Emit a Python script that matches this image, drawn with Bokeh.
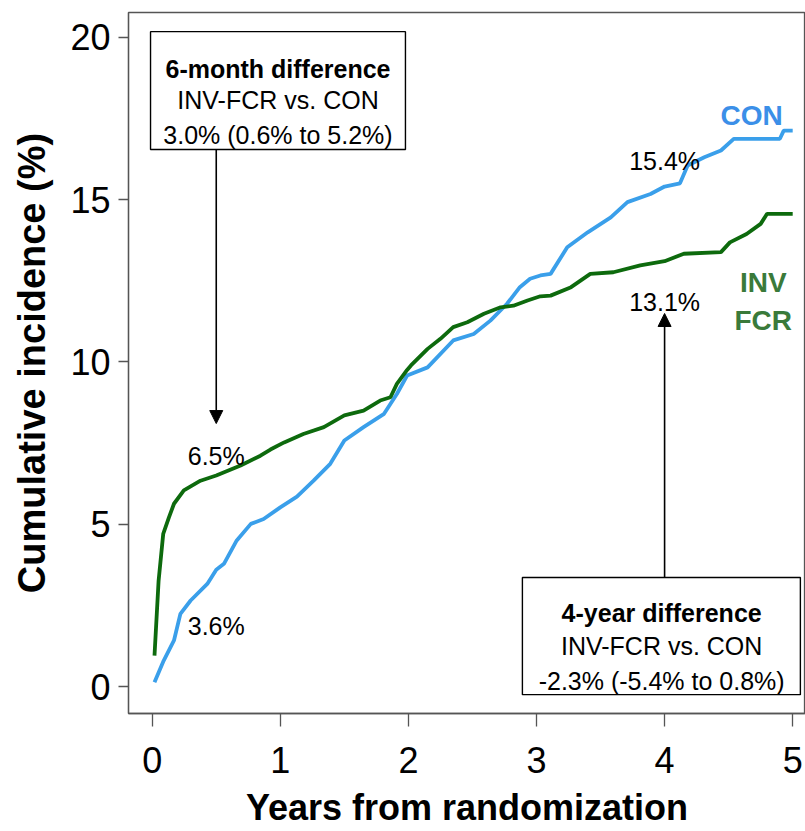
from bokeh.plotting import figure
from bokeh.models import Range1d, Label, Arrow, NormalHead, BoxAnnotation, FixedTicker
from bokeh.embed import file_html
from bokeh.resources import INLINE

# Cumulative incidence curves (years from randomization, %)
years_inv = [0.018, 0.05, 0.086, 0.13, 0.17, 0.247, 0.377, 0.5, 0.69, 0.845, 0.923,
             1.03, 1.18, 1.34, 1.50, 1.65, 1.78, 1.86, 1.91, 1.99, 2.02, 2.15, 2.25,
             2.35, 2.46, 2.59, 2.72, 2.82, 2.93, 3.03, 3.11, 3.27, 3.42, 3.60, 3.81,
             4.0, 4.15, 4.44, 4.51, 4.64, 4.75, 4.80, 5.0]
inc_inv = [0.95, 3.26, 4.70, 5.20, 5.63, 6.04, 6.34, 6.5, 6.81, 7.11, 7.30,
           7.52, 7.78, 7.99, 8.35, 8.50, 8.81, 8.91, 9.32, 9.75, 9.89, 10.40, 10.71,
           11.07, 11.22, 11.48, 11.68, 11.73, 11.89, 12.02, 12.04, 12.30, 12.71, 12.76, 12.97,
           13.1, 13.33, 13.38, 13.68, 13.94, 14.25, 14.56, 14.56]

years_con = [0.018, 0.09, 0.17, 0.22, 0.30, 0.43, 0.5, 0.56, 0.66, 0.77, 0.87, 1.0,
             1.13, 1.26, 1.39, 1.50, 1.65, 1.81, 1.91, 1.99, 2.15, 2.35, 2.51, 2.64,
             2.77, 2.87, 2.95, 3.03, 3.11, 3.24, 3.40, 3.58, 3.71, 3.89, 4.0, 4.12,
             4.18, 4.31, 4.44, 4.54, 4.90, 4.93, 5.0]
inc_con = [0.13, 0.80, 1.42, 2.24, 2.65, 3.16, 3.6, 3.78, 4.50, 5.01, 5.16, 5.52,
           5.85, 6.34, 6.86, 7.58, 7.99, 8.40, 9.01, 9.58, 9.83, 10.66, 10.86, 11.27,
           11.79, 12.30, 12.56, 12.66, 12.71, 13.53, 13.99, 14.45, 14.92, 15.17, 15.4, 15.5,
           16.05, 16.30, 16.51, 16.87, 16.87, 17.12, 17.12]

x_ticks = [0, 1, 2, 3, 4, 5]
y_ticks = [0, 5, 10, 15, 20]

# Landmark times for the point estimates
t_6m = 0.5
t_4y = 4.0

box_6m_lines = ["6-month difference", "INV-FCR vs. CON", "3.0% (0.6% to 5.2%)"]
box_4y_lines = ["4-year difference", "INV-FCR vs. CON", "-2.3% (-5.4% to 0.8%)"]

FONT = "Liberation Sans"
CON_BLUE = "#3a9fea"
INV_GREEN = "#0d6a0d"
AXIS_GRAY = "#555555"
TEXT_SIZE = "25px"

p = figure(width=805, height=831,
           x_range=Range1d(-0.185, 5.10), y_range=Range1d(-0.83, 20.76),
           output_backend="svg", toolbar_location=None,
           min_border_left=128, min_border_right=0,
           min_border_top=12, min_border_bottom=118)

p.grid.visible = False
p.background_fill_color = "white"
p.border_fill_color = "white"
p.outline_line_color = AXIS_GRAY
p.outline_line_width = 1.3

for ax in (p.xaxis[0], p.yaxis[0]):
    ax.axis_line_color = AXIS_GRAY
    ax.axis_line_width = 1.3
    ax.major_tick_line_color = AXIS_GRAY
    ax.major_tick_line_width = 1.3
    ax.major_tick_in = 0
    ax.minor_tick_line_color = None
    ax.major_label_text_font = FONT
    ax.major_label_text_font_size = "36px"
    ax.major_label_text_color = "black"
    ax.axis_label_text_font = FONT
    ax.axis_label_text_font_style = "bold"
    ax.axis_label_text_color = "black"

p.xaxis.ticker = FixedTicker(ticks=x_ticks)
p.yaxis.ticker = FixedTicker(ticks=y_ticks)
p.xaxis.major_tick_out = 13
p.yaxis.major_tick_out = 10
p.xaxis.major_label_standoff = 20
p.yaxis.major_label_standoff = 8
p.xaxis.axis_label = "Years from randomization"
p.yaxis.axis_label = "Cumulative incidence (%)"
p.xaxis.axis_label_text_font_size = "36px"
p.yaxis.axis_label_text_font_size = "38px"
p.xaxis.axis_label_standoff = 11
p.yaxis.axis_label_standoff = 14

# Curves
p.line(years_con, inc_con, line_color=CON_BLUE, line_width=3.8)
p.line(years_inv, inc_inv, line_color=INV_GREEN, line_width=3.8)

# Annotation boxes
for left, right, top, bottom in [(-0.013, 1.977, 20.17, 16.54), (2.89, 5.06, 3.36, -0.25)]:
    p.add_layout(BoxAnnotation(left=left, right=right, top=top, bottom=bottom,
                               fill_color="white", fill_alpha=1.0,
                               line_color="black", line_alpha=1.0, line_width=1.4))

def box_text(lines, xc, baselines):
    for i, (t, yb) in enumerate(zip(lines, baselines)):
        p.add_layout(Label(x=xc, y=yb, text=t, text_align="center",
                           text_baseline="alphabetic", text_font=FONT,
                           text_font_size=TEXT_SIZE,
                           text_font_style="bold" if i == 0 else "normal",
                           text_color="black"))

box_text(box_6m_lines, 0.982, [19.03, 18.05, 16.99])
box_text(box_4y_lines, 3.977, [2.28, 1.26, 0.185])

# Arrows from the boxes to the landmark estimates
p.add_layout(Arrow(end=NormalHead(size=13, fill_color="black", line_color="black"),
                   x_start=t_6m, y_start=16.54, x_end=t_6m, y_end=8.1,
                   line_color="black", line_width=1.6))
p.add_layout(Arrow(end=NormalHead(size=13, fill_color="black", line_color="black"),
                   x_start=t_4y, y_start=3.36, x_end=t_4y, y_end=11.49,
                   line_color="black", line_width=1.6))

# Point estimate labels at 6 months and 4 years
def est(years, inc, t):
    return inc[years.index(t)]

estimates = [(t_6m, years_inv, inc_inv, 7.11), (t_6m, years_con, inc_con, 1.88),
             (t_4y, years_con, inc_con, 16.2), (t_4y, years_inv, inc_inv, 11.83)]
for t, ys, vs, yb in estimates:
    p.add_layout(Label(x=t, y=yb, text=f"{est(ys, vs, t):.1f}%",
                       text_align="center", text_baseline="alphabetic", text_font=FONT,
                       text_font_size=TEXT_SIZE, text_color="black"))

# Arm labels
arm_labels = [("CON", 4.68, 17.59, "#3b8fe8"), ("INV", 4.77, 12.45, "#3a7a3a"),
              ("FCR", 4.77, 11.27, "#3a7a3a")]
for t, x, y, c in arm_labels:
    p.add_layout(Label(x=x, y=y, text=t, text_align="center",
                       text_baseline="alphabetic", text_font=FONT, text_font_size="28px",
                       text_font_style="bold", text_color=c))

open("out.html", "w").write(file_html(p, INLINE))
